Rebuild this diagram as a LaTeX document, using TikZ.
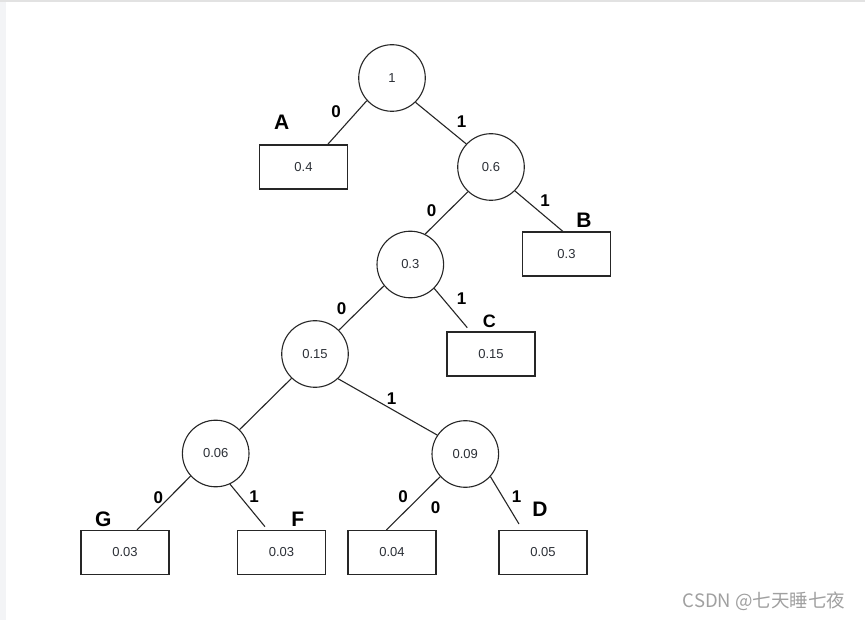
\documentclass[tikz,border=0pt]{standalone}
\usepackage{fontspec}
\setmainfont{Liberation Sans}
\newfontfamily\cjkfont{Noto Sans CJK SC}
\definecolor{txt}{HTML}{2B2F36}
\definecolor{edgegray}{HTML}{F3F4F6}
\definecolor{topgray}{HTML}{E2E2E2}
\definecolor{wm}{HTML}{A0A0A0}
\begin{document}
\begin{tikzpicture}[x=1pt,y=-1pt,
  inner node/.style={circle,draw=black!85,line width=1.1pt,minimum size=66.6pt,inner sep=0pt,
    font=\fontsize{13}{15}\selectfont,text=txt},
  leaf/.style={rectangle,draw=black!85,line width=1.1pt,minimum width=88pt,minimum height=44pt,inner sep=0pt,
    font=\fontsize{13}{15}\selectfont,text=txt},
  conn/.style={draw=black!85,line width=1.1pt},
  bit/.style={font=\fontsize{17}{19}\selectfont\bfseries,inner sep=0pt},
  sym/.style={font=\fontsize{21}{24}\selectfont\bfseries,inner sep=0pt}]
\useasboundingbox (0,0) rectangle (865,620);
\fill[white] (0,0) rectangle (865,620);
\fill[edgegray] (0,0) rectangle (6,620);
\fill[topgray] (0,0) rectangle (865,2);

% inner nodes
\node[inner node] (n1)   at (392,78)      {1};
\node[inner node] (n06)  at (491,167)     {0.6};
\node[inner node] (n03)  at (410.3,264.5) {0.3};
\node[inner node] (n015) at (315,354)     {0.15};
\node[inner node] (n006) at (215.7,453.5) {0.06};
\node[inner node] (n009) at (465.3,454)   {0.09};

% leaves
\node[leaf] (bA)   at (303.5,167)   {0.4};
\node[leaf] (bB)   at (566.5,254)   {0.3};
\node[leaf] (bC)   at (491,354)     {0.15};
\node[leaf] (bG)   at (125,552.5)   {0.03};
\node[leaf] (bF)   at (281.5,552.5) {0.03};
\node[leaf] (b004) at (392,552.5)   {0.04};
\node[leaf] (b005) at (543,552.5)   {0.05};

% free ends
\coordinate (eC) at (467.3,327.7);
\coordinate (eF) at (265,526.7);
\coordinate (eD) at (519,524);

% connectors
\draw[conn] (n1.222.8) -- (bA.43);
\draw[conn] (n1.314.7) -- (n06.137.4);
\draw[conn] (n06.227.6) -- (n03.64.8);
\draw[conn] (n06.315.4) -- (bB.99.7);
\draw[conn] (n03.219.3) -- (n015.45);
\draw[conn] (n03.315.2) -- (eC);
\draw[conn] (n015.226.2) -- (n006.45);
\draw[conn] (n015.313.8) -- (n009.146.4);
\draw[conn] (n006.222.9) -- (bG.62.5);
\draw[conn] (n006.295) -- (eF);
\draw[conn] (n009.222.7) -- (b004.104.9);
\draw[conn] (n009.318.6) -- (eD);

% bit labels
\node[bit] (l1)  at (336,111.7)   {0};
\node[bit] (l2)  at (461.7,121.7) {1};
\node[bit] (l3)  at (431.7,210.7) {0};
\node[bit] (l4)  at (545,200.7)   {1};
\node[bit] (l5)  at (341.7,308.3) {0};
\node[bit] (l6)  at (461.7,298.3) {1};
\node[bit] (l7)  at (391.7,398.3) {1};
\node[bit] (l8)  at (158.3,497.3) {0};
\node[bit] (l9)  at (254,497)     {1};
\node[bit] (l10) at (403,497)     {0};
\node[bit] (l11) at (435.7,507.3) {0};
\node[bit] (l12) at (516.7,496.7) {1};

% symbol labels
\node[sym] (sA) at (281.7,122.7) {A};
\node[sym] (sB) at (584,220)     {B};
\node[sym, font=\fontsize{18}{20}\selectfont\bfseries] (sC) at (489.3,321.7) {C};
\node[sym] (sG) at (103.3,519)   {G};
\node[sym] (sF) at (297.7,519)   {F};
\node[sym] (sD) at (540,509.3)   {D};

% watermark
\node[text=wm, font=\cjkfont\fontsize{18.5}{20}\selectfont, inner sep=0pt] (wmk) at (764,601) {CSDN @七天睡七夜};
\end{tikzpicture}
\end{document}
